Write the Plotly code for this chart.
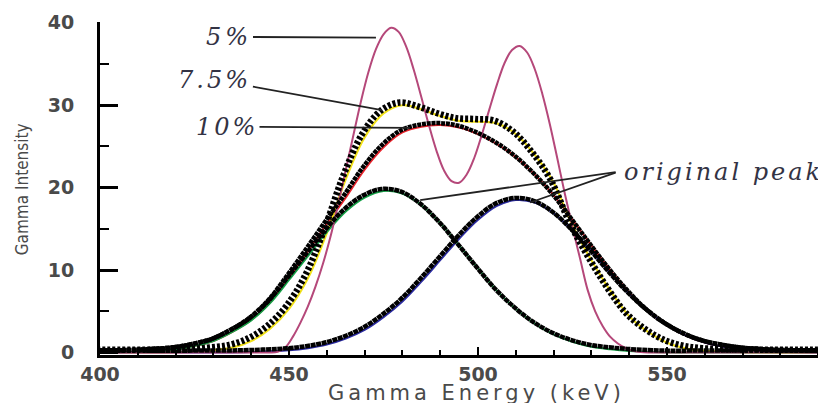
import plotly.graph_objects as go

# ---------------- data ----------------
# original peak 1 (green)
x_green = [400, 410, 420, 425, 430, 435, 440, 445, 450, 455, 460, 465, 470, 475, 480, 485, 490,
           495, 500, 505, 510, 515, 520, 525, 530, 535, 540, 550, 560, 592]
y_green = [0.0, 0.1, 0.4, 0.8, 1.4, 2.5, 3.9, 6.0, 8.8, 11.7, 14.6, 17.1, 18.8, 19.6, 19.3, 17.9, 15.7,
           13.0, 10.2, 7.5, 5.3, 3.5, 2.2, 1.3, 0.7, 0.4, 0.2, 0.0, 0.0, 0.0]

# original peak 2 (blue)
x_blue = [400, 430, 440, 450, 455, 460, 465, 470, 475, 480, 485, 490, 495, 500, 505, 510, 515,
          520, 525, 530, 535, 540, 545, 550, 555, 560, 565, 570, 575, 580, 592]
y_blue = [0.0, 0.0, 0.06, 0.27, 0.53, 0.97, 1.7, 2.75, 4.3, 6.2, 8.6, 11.2, 13.8, 16.1, 17.8, 18.5, 18.2,
          16.9, 14.8, 12.3, 9.6, 7.1, 5.0, 3.3, 2.05, 1.2, 0.7, 0.36, 0.18, 0.08, 0.0]

# 10 % resolution (red)
x_10 = [400, 410, 420, 425, 430, 435, 440, 445, 450, 455, 460, 465, 470, 475, 480, 485, 490, 495,
        500, 505, 510, 515, 520, 525, 530, 535, 540, 545, 550, 555, 560, 565, 570, 575, 580, 592]
y_10 = [0.0, 0.1, 0.4, 0.8, 1.4, 2.5, 3.95, 6.1, 9.1, 12.3, 15.6, 18.8, 22.2, 24.9, 26.7, 27.4, 27.6, 27.3,
        26.5, 25.3, 23.7, 21.6, 19.1, 16.1, 13.0, 10.0, 7.3, 5.0, 3.3, 2.05, 1.2, 0.7, 0.36, 0.18, 0.08, 0.0]

# 7.5 % resolution (yellow)
x_75 = [400, 420, 425, 430, 435, 440, 445, 450, 455, 460, 465, 470, 475, 480, 485, 490, 495, 500,
        505, 510, 515, 520, 525, 530, 535, 540, 545, 550, 555, 560, 570, 592]
y_75 = [0.0, 0.02, 0.1, 0.3, 0.6, 1.4, 2.9, 5.3, 9.0, 14.5, 21.0, 26.1, 29.0, 30.0, 29.5, 28.7, 28.1, 28.0,
        27.8, 26.5, 24.0, 20.6, 15.4, 11.2, 7.5, 4.4, 2.5, 1.2, 0.5, 0.2, 0.05, 0.0]

# 5 % resolution (magenta)
x_5 = [400, 443, 445, 447, 449, 451, 453, 455, 457, 459, 461, 463, 465, 467, 469, 471, 473, 475, 477,
       479, 481, 483, 485, 487, 489, 491, 493, 495, 497, 499, 501, 503, 505, 507, 509, 511,
       513, 515, 517, 519, 521, 523, 525, 527, 529, 531, 533, 535, 537, 539, 541, 543, 545, 547, 592]
y_5 = [0.0, 0.0, 0.0, 0.1, 0.6, 1.9, 3.6, 5.6, 8.0, 10.8, 14.1, 18.0, 22.1, 26.3, 30.4, 34.0, 36.8, 38.6, 39.4,
       38.9, 37.1, 34.3, 31.0, 27.6, 24.5, 22.1, 20.8, 20.6, 21.6, 23.6, 26.4, 29.5, 32.5, 35.1, 36.7, 37.2,
       36.4, 34.4, 31.4, 27.7, 23.5, 19.2, 15.2, 11.4, 7.6, 5.0, 3.2, 1.9, 1.1, 0.55, 0.2, 0.05, 0.0, 0.0, 0.0]

x_ticks = [400, 450, 500, 550]
y_ticks = [0, 10, 20, 30, 40]

X_RANGE = [400, 592.06]
Y_RANGE = [-0.3, 40.1]

fig = go.Figure()

def colored(x, y, color, width=2.0):
    fig.add_trace(go.Scatter(x=x, y=y, mode="lines", xaxis="x", yaxis="y",
                             line=dict(color=color, width=width, shape="spline", smoothing=1.0),
                             hoverinfo="skip", showlegend=False))

def dots(x, y, width, dash, axes=("x2", "y2")):
    fig.add_trace(go.Scatter(x=x, y=y, mode="lines", xaxis=axes[0], yaxis=axes[1],
                             line=dict(color="black", width=width, dash=dash, shape="spline", smoothing=1.0),
                             hoverinfo="skip", showlegend=False))

colored(x_10, y_10, "#e8232c")
colored(x_75, y_75, "#f2e21a", 2.2)
colored(x_green, y_green, "#14a046")
colored(x_blue, y_blue, "#2a2aa0")

dots(x_10, y_10, 4.5, "4px,0.8px")
dots(x_75, y_75, 6.5, "3px,2px", ("x3", "y3"))
dots(x_green, y_green, 4.5, "5px,0.6px")
dots(x_blue, y_blue, 4.5, "5px,0.6px")

colored(x_5, y_5, "#b5487a", 2.0)

tick_font = dict(family="DejaVu Sans", size=19, color="#4a4a4a", weight="bold")

# the page body has an 8px margin, so the figure is drawn 8px smaller than the window
fig.update_layout(
    template="none",
    width=818, height=395,
    margin=dict(l=92, r=0, t=14, b=48),
    paper_bgcolor="white", plot_bgcolor="white",
    xaxis=dict(range=X_RANGE, showgrid=False, zeroline=False, automargin=False,
               showline=True, linecolor="black", linewidth=3,
               tickmode="array", tickvals=x_ticks, ticktext=[str(v) for v in x_ticks],
               ticks="inside", ticklen=8, tickwidth=2, tickcolor="black",
               minor=dict(ticks="inside", ticklen=5, tickwidth=1.5, tickcolor="black", dtick=10, tick0=400,
                          showgrid=False),
               tickfont=tick_font, ticklabelstandoff=0),
    yaxis=dict(range=Y_RANGE, showgrid=False, zeroline=False, automargin=False,
               showline=True, linecolor="black", linewidth=3,
               tickmode="array", tickvals=y_ticks, ticktext=[str(v) for v in y_ticks],
               ticks="inside", ticklen=18, tickwidth=2.5, tickcolor="black",
               minor=dict(ticks="inside", ticklen=9, tickwidth=2, tickcolor="black", dtick=5, tick0=0,
                          showgrid=False),
               tickfont=tick_font, ticklabelstandoff=19),
    # overlay axes that shift the black marker curves a little up and to the left
    xaxis2=dict(range=[X_RANGE[0] + 0.5, X_RANGE[1] + 0.5], overlaying="x", visible=False),
    yaxis2=dict(range=[Y_RANGE[0] - 0.24, Y_RANGE[1] - 0.24], overlaying="y", visible=False),
    xaxis3=dict(range=[X_RANGE[0] + 0.75, X_RANGE[1] + 0.75], overlaying="x", visible=False),
    yaxis3=dict(range=[Y_RANGE[0] - 0.33, Y_RANGE[1] - 0.33], overlaying="y", visible=False),
)

# axis titles
fig.add_annotation(x=499.5, y=0, xref="x", yref="paper", xanchor="center", yanchor="middle", yshift=-38,
                   text="<span style='letter-spacing:4px'>Gamma Energy (keV)</span>", showarrow=False,
                   font=dict(family="DejaVu Sans", size=21, color="#4a4a4a"))
fig.add_annotation(x=0, y=19.8, xref="paper", yref="y", xanchor="center", yanchor="middle",
                   xshift=-78, textangle=-90,
                   text="Gamma Intensity", showarrow=False,
                   font=dict(family="Liberation Sans Narrow, DejaVu Sans Condensed, sans-serif",
                             size=17, color="#4a4a4a"))

ann_font = dict(family="DejaVu Serif", size=24, color="#333344", style="italic")

def spaced(t, px):
    return "<span style='letter-spacing:%.1fpx'>%s</span>" % (px, t)

labels = [
    # text, letter spacing, tail (text centre), head
    ("5%", 4, (434.0, 38.3), (473.0, 38.2)),
    ("7.5%", 3, (430.4, 33.1), (474.6, 29.4)),
    ("10%", 3, (433.6, 27.4), (482.0, 27.25)),
]
for txt, sp, (ax, ay), (hx, hy) in labels:
    fig.add_annotation(x=hx, y=hy, ax=ax, ay=ay, axref="x", ayref="y", xref="x", yref="y",
                       text=spaced(txt, sp), showarrow=True, arrowhead=0, arrowwidth=1.8,
                       arrowcolor="#222222", font=ann_font, standoff=0, startstandoff=0)

for hx, hy in [(484.7, 18.5), (513.8, 18.2)]:
    fig.add_annotation(x=hx, y=hy, ax=536.8, ay=21.9, axref="x", ayref="y", xref="x", yref="y",
                       text="", showarrow=True, arrowhead=0, arrowwidth=1.8, arrowcolor="#222222")

fig.add_annotation(x=538.2, y=21.9, xref="x", yref="y", xanchor="left", yanchor="middle",
                   text=spaced("original peak", 3), showarrow=False, font=ann_font)

fig.write_html("out.html")
